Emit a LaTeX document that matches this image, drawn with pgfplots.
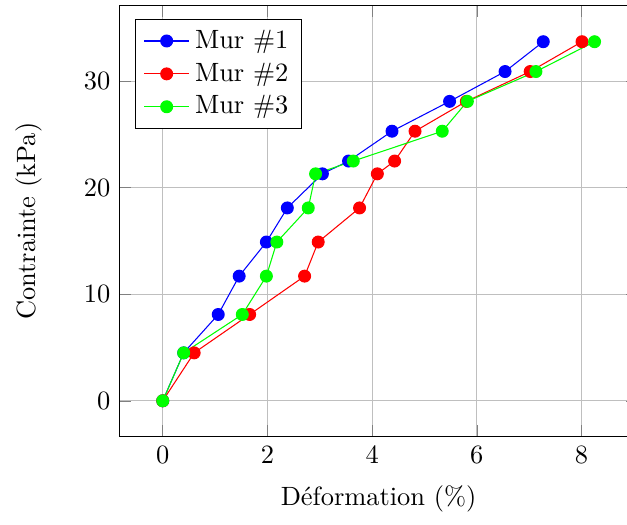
\documentclass[border=0pt]{standalone}
\usepackage{pgfplots}
\pgfplotsset{compat=1.18}
\begin{document}
\begin{tikzpicture}
\begin{axis}[
  scale only axis,
  width=196pt, height=163pt,
  xlabel={D\'eformation (\%)},
  ylabel={Contrainte (kPa)},
  ylabel style={yshift=9pt},
  xlabel style={yshift=-1.5pt},
  grid=major,
  xtick={0,2,4,6,8},
  ytick={0,10,20,30},
  legend pos=north west,
  legend cell align=left,
  every axis plot/.append style={mark=*, mark size=2.25pt},
]
\addplot[blue, mark options={fill=blue}] coordinates {
(0,0) (0.40,4.5) (1.06,8.1) (1.46,11.7) (1.98,14.9) (2.38,18.1) (3.05,21.3) (3.55,22.5) (4.38,25.3) (5.48,28.1) (6.54,30.9) (7.27,33.7)
};
\addlegendentry{Mur \#1}
\addplot[red, mark options={fill=red}] coordinates {
(0,0) (0.60,4.5) (1.66,8.1) (2.71,11.7) (2.97,14.9) (3.76,18.1) (4.10,21.3) (4.43,22.5) (4.82,25.3) (5.80,28.1) (7.02,30.9) (8.01,33.7)
};
\addlegendentry{Mur \#2}
\addplot[green, mark options={fill=green}] coordinates {
(0,0) (0.40,4.5) (1.52,8.1) (1.98,11.7) (2.18,14.9) (2.78,18.1) (2.92,21.3) (3.64,22.5) (5.34,25.3) (5.82,28.1) (7.13,30.9) (8.25,33.7)
};
\addlegendentry{Mur \#3}
\coordinate (cropx) at (axis cs:8.87,0);
\end{axis}
\path (current bounding box.south west) coordinate (bbsw) (current bounding box.north east) coordinate (bbne);
\pgfresetboundingbox
\useasboundingbox ([xshift=-2.5pt,yshift=-1.5pt]bbsw) rectangle ([yshift=2pt]cropx |- bbne);
\end{tikzpicture}
\end{document}
